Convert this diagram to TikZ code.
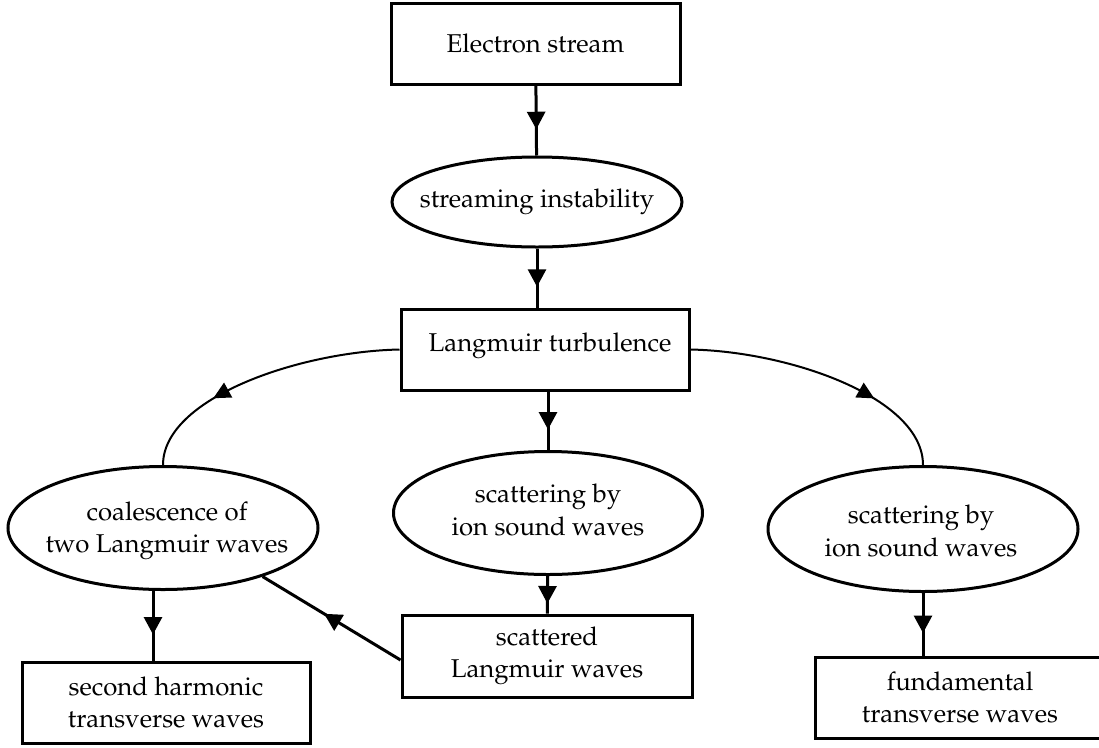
\documentclass[tikz,border=0pt]{standalone}
\usepackage[T1]{fontenc}
\usepackage{mathpazo}
\usetikzlibrary{shapes.geometric,arrows.meta,decorations.markings,calc}
\newcommand{\dfont}{\fontsize{10.3}{13}\selectfont}
\begin{document}
\begin{tikzpicture}[x=0.4pt,y=-0.4pt,
  box/.style={draw,line width=1.2pt,rectangle,inner sep=0pt,align=center,font=\dfont},
  oval/.style={draw,line width=1.2pt,ellipse,inner sep=0pt},
  txt/.style={align=center,font=\dfont,inner sep=0pt},
  midarrow/.style={line width=1.2pt,postaction={decorate},
    decoration={markings,mark=at position 0.5 with {\arrow[xshift=3.5pt]{Triangle[length=7pt,width=7.2pt]}}}},
  curvearrow/.style={line width=0.8pt,postaction={decorate},
    decoration={markings,mark=at position 0.66 with {\arrow[xshift=3.4pt]{Triangle[length=6.8pt,width=6.6pt]}}}}
]
\useasboundingbox (0,0) rectangle (1099,747);

% nodes
\node[box,minimum width=289*0.4pt,minimum height=81*0.4pt] (es) at (535.5,43.5) {Electron stream};
\node[oval,minimum width=290*0.4pt,minimum height=90*0.4pt] (si) at (537,202) {};
\node[txt] (siT) at (si.center) {streaming instability};
\node[box,minimum width=288*0.4pt,minimum height=81*0.4pt] (lt) at (545,349.5) {};
\node[txt] (ltT) at (550,346) {Langmuir turbulence};
\node[oval,minimum width=310*0.4pt,minimum height=123*0.4pt] (coal) at (163,528) {};
\node[txt] (coalT) at (167,531) {coalescence of\\two Langmuir waves};
\node[oval,minimum width=309*0.4pt,minimum height=123*0.4pt] (cen) at (548,513) {};
\node[txt] (cenT) at (548,510) {scattering by\\ion sound waves};
\node[oval,minimum width=310*0.4pt,minimum height=125*0.4pt] (right) at (923,529) {};
\node[txt] (rightT) at (921,531) {scattering by\\ion sound waves};
\node[box,minimum width=288*0.4pt,minimum height=81*0.4pt] (sh) at (166,702.5) {second harmonic\\transverse waves};
\node[box,minimum width=290*0.4pt,minimum height=82*0.4pt] (sc) at (547,656) {scattered\\Langmuir waves};
\node[box,minimum width=290*0.4pt,minimum height=81*0.4pt] (fu) at (960,697.5) {fundamental\\transverse waves};

% connectors
\draw[midarrow] (es) -- (si);
\draw[midarrow] (si.south) -- (si.south |- lt.north);
\draw[midarrow] (cen.north |- lt.south) -- (cen.north);
\draw[midarrow] (cen) -- (sc);
\draw[midarrow] ([xshift=-4pt]coal.south) -- ([xshift=-4pt]coal.south |- sh.north);
\draw[midarrow] (right.south) -- (right.south |- fu.north);
\draw[midarrow] ([yshift=-1.6pt]sc.west) -- (coal.-26);
\draw[curvearrow] (lt.west) .. controls +(-100,2) and +(0,-67) .. (coal.north);
\draw[curvearrow] (lt.east) .. controls +(100,2) and +(0,-67) .. (right.north);
\end{tikzpicture}
\end{document}
